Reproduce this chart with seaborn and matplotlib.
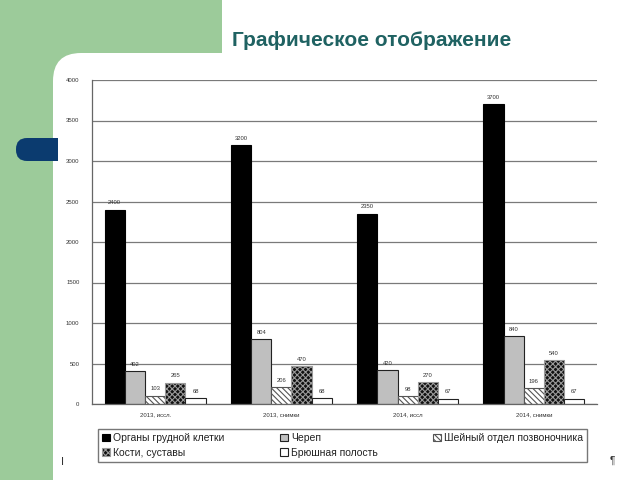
import matplotlib
matplotlib.use("Agg")
import matplotlib.pyplot as plt
import matplotlib.transforms as mtransforms
from matplotlib.patches import Rectangle, FancyBboxPatch
import seaborn as sns
import pandas as pd

# ---------------- data ----------------
categories = ["2013, иссл.", "2013, снимки", "2014, иссл", "2014, снимки"]
series = ["Органы грудной клетки", "Череп", "Шейный отдел позвоночника",
          "Кости, суставы", "Брюшная полость"]
chest = [2400, 3200, 2350, 3700]
skull = [402, 804, 420, 840]
cervical = [103, 206, 98, 196]
bones = [265, 470, 270, 540]
abdomen = [68, 68, 67, 67]
yticks = [0, 500, 1000, 1500, 2000, 2500, 3000, 3500, 4000]
title = "Графическое отображение"

values = [chest, skull, cervical, bones, abdomen]
rows = []
for s, vals in zip(series, values):
    for c, v in zip(categories, vals):
        rows.append({"cat": c, "series": s, "val": v})
df = pd.DataFrame(rows)

sns.set_theme(style="white")
plt.rcParams['font.family'] = ['Liberation Sans', 'DejaVu Sans']
plt.rcParams['hatch.linewidth'] = 0.8

W, H = 640, 480
fig = plt.figure(figsize=(6.4, 4.8), dpi=100)
fig.patch.set_facecolor("white")
ident = mtransforms.IdentityTransform()

# slide background
fig.add_artist(Rectangle((0, 0), 222, H, transform=ident,
                         facecolor="#9ccb9a", edgecolor="none", zorder=-10))
fig.add_artist(FancyBboxPatch((53, -60), 700, H - 53 + 60,
                              boxstyle="round,pad=0,rounding_size=28",
                              transform=ident, facecolor="white",
                              edgecolor="none", zorder=-9))
fig.add_artist(FancyBboxPatch((16, H - 161), 34, 23,
                              boxstyle="round,pad=0,rounding_size=11",
                              transform=ident, facecolor="#0b3b6f",
                              edgecolor="none", zorder=-8))
fig.add_artist(Rectangle((30, H - 161), 28, 23, transform=ident,
                         facecolor="#0b3b6f", edgecolor="none", zorder=-8))

fig.text(232 / W, 1 - 40 / H, title, fontsize=15, fontweight="bold",
         color="#1f6262", ha="left", va="center")

# ---------------- chart ----------------
ax = fig.add_axes([92 / W, 1 - 404 / H, (597 - 92) / W, (404 - 80) / H])
ax.set_facecolor("none")

sns.barplot(data=df, x="cat", y="val", hue="series", order=categories,
            hue_order=series, width=0.8, saturation=1, ax=ax, legend=False,
            palette=["black", "#bfbfbf", "white", "black", "white"])

styles = [
    dict(facecolor="black", edgecolor="black", hatch=None),
    dict(facecolor="#bfbfbf", edgecolor="#222222", hatch=None),
    dict(facecolor="white", edgecolor="#555555", hatch="\\\\\\\\\\\\"),
    dict(facecolor="#111111", edgecolor="black", hatch="xxxxxx"),
    dict(facecolor="white", edgecolor="#222222", hatch=None),
]
for cont, st in zip(ax.containers, styles):
    for p in cont:
        p.set_facecolor(st["facecolor"])
        p.set_linewidth(0.8)
        if st["hatch"] == "xxxxxx":
            if hasattr(p, "set_hatchcolor"):
                p.set_edgecolor("black")
                p.set_hatchcolor("#9a9a9a")
            else:
                p.set_edgecolor("#9a9a9a")
            p.set_hatch(st["hatch"])
        else:
            p.set_edgecolor(st["edgecolor"])
            if st["hatch"]:
                p.set_hatch(st["hatch"])
    ax.bar_label(cont, fontsize=4.2, padding=3, color="#333333")

ax.set_ylim(0, 4000)
ax.set_yticks(yticks)
ax.set_yticklabels([str(t) for t in yticks], fontsize=4.3, color="#333333")
ax.set_xlim(-0.5, 3.5)
ax.tick_params(axis="x", labelsize=4.3, colors="#333333", length=0, pad=6)
ax.set_xticks([0.5, 1.5, 2.5], minor=True)
ax.tick_params(axis="x", which="minor", length=3, color="#555555",
               direction="out", width=0.8)
ax.tick_params(axis="y", length=3, color="#555555", direction="out",
               width=0.8, pad=6)
ax.set_xlabel("")
ax.set_ylabel("")
ax.yaxis.grid(True, color="#7a7a7a", linewidth=0.9)
ax.set_axisbelow(True)
for s in ["top", "right"]:
    ax.spines[s].set_visible(False)
for s in ["left", "bottom"]:
    ax.spines[s].set_color("#666666")
    ax.spines[s].set_linewidth(0.9)

# legend (row-major order as in the reference)
order = [0, 3, 1, 4, 2]
handles = [ax.containers[i].patches[0] for i in order]
labels = [series[i] for i in order]
leg = fig.legend(handles, labels, ncol=3, loc="lower left",
                 bbox_to_anchor=(98 / W, 1 - 462 / H, (587 - 98) / W, 37 / H),
                 mode="expand", borderaxespad=0, frameon=True, fancybox=False,
                 fontsize=7.5, handlelength=0.75, handleheight=0.75,
                 handletextpad=0.3, labelspacing=0.45, borderpad=0.4,
                 edgecolor="#555555")
leg.get_frame().set_linewidth(1.0)
for t in leg.get_texts():
    t.set_color("#222222")

fig.text(63 / W, 1 - 462 / H, "I", fontsize=8, color="#333333",
         ha="center", va="center")
fig.text(612 / W, 1 - 461 / H, "¶", fontsize=7, color="#333333",
         ha="center", va="center")

fig.savefig("out.png", dpi=100)
